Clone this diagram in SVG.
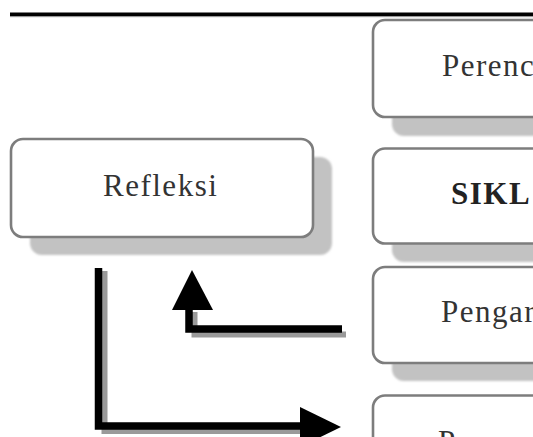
<svg xmlns="http://www.w3.org/2000/svg" width="533" height="437" viewBox="0 0 533 437">
<style>
.box{fill:#ffffff;stroke:#7d7d7d;stroke-width:2.6}
.sh{fill:#c2c2c2}
.lbl{font-family:"Liberation Serif","Times New Roman",serif;font-size:31px;fill:#333333;letter-spacing:1.5px}
.bold{font-weight:bold;fill:#222222}
.ln{fill:none;stroke:#000000;stroke-width:7.5;stroke-linejoin:miter;stroke-linecap:butt}
.lnsh{fill:none;stroke:#9a9a9a;stroke-width:6;stroke-linejoin:miter}
</style>
<defs>
<filter id="blur" x="-10%" y="-10%" width="120%" height="120%"><feGaussianBlur stdDeviation="1"/></filter>
</defs>
<rect width="533" height="437" fill="#ffffff"/>
<rect x="10" y="16" width="523" height="1.2" fill="#aaaaaa"/>
<rect x="10" y="12.5" width="523" height="3.6" fill="#000000"/>

<g id="node-perencanaan">
<rect class="sh" x="392" y="39" width="200" height="97" rx="12" filter="url(#blur)"/>
<rect class="box" x="373" y="20" width="200" height="97" rx="12"/>
<text class="lbl" x="442" y="76">Perenc</text>
</g>
<g id="node-siklus">
<rect class="sh" x="392" y="167" width="200" height="95" rx="12" filter="url(#blur)"/>
<rect class="box" x="373" y="148.5" width="200" height="95" rx="12"/>
<text class="lbl bold" x="451" y="204">SIKL</text>
</g>
<g id="node-pengamatan">
<rect class="sh" x="392" y="285" width="200" height="96" rx="12" filter="url(#blur)"/>
<rect class="box" x="373" y="267" width="200" height="96" rx="12"/>
<text class="lbl" x="441" y="322">Pengar</text>
</g>
<g id="node-perencanaan2">
<rect class="sh" x="392" y="414" width="200" height="96" rx="12" filter="url(#blur)"/>
<rect class="box" x="373" y="395.5" width="200" height="96" rx="12"/>
<text class="lbl" x="438" y="452">Perenc</text>
</g>
<g id="node-refleksi">
<rect class="sh" x="30" y="157" width="302" height="98" rx="12" filter="url(#blur)"/>
<rect class="box" x="11" y="139" width="302" height="98" rx="12"/>
<text class="lbl" x="103" y="196">Refleksi</text>
</g>

<g id="connectors">
<path class="lnsh" d="M104.5 271 V431 H301"/>
<path class="ln" d="M98.5 268 V426 H304"/>
<polygon points="300,407 341,427 300,447" fill="#000000"/>
<path class="lnsh" d="M346 334.5 H194.5 V312"/>
<path class="ln" d="M342 329 H189 V306"/>
<polygon points="172,310 192,270 213,310" fill="#000000"/>
</g>
</svg>
